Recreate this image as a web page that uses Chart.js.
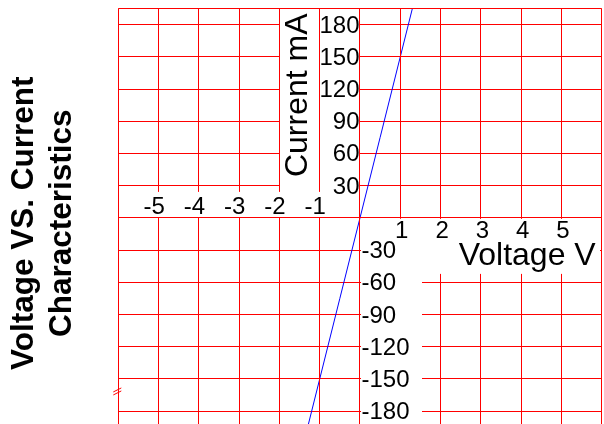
<!DOCTYPE html>
<html>
<head>
<meta charset="utf-8">
<title>Voltage VS. Current Characteristics</title>
<script src="https://cdn.jsdelivr.net/npm/chart.js@4/dist/chart.umd.min.js"></script>
<style>
  html, body { margin: 0; padding: 0; background: #ffffff; overflow: hidden; }
  #chart-wrap { width: 604px; height: 424px; overflow: hidden; }
</style>
</head>
<body>
<div id="chart-wrap"><canvas id="chart" width="604" height="438"></canvas></div>
<script>
// ─── Data ────────────────────────────────────────────────────────────────────
// Measured points of the straight V/I line (volts, milliamps).
const VOLTAGE = [-1.3, -1.0, -0.5, 0, 0.5, 1.0, 1.3];
const CURRENT = [-195, -150, -75, 0, 75, 150, 195];

// Axis ranges, grid positions and tick labels.
const VOLTAGE_RANGE = [-6, 6];
const CURRENT_RANGE = [-205, 195];
const VOLTAGE_GRID = [-6, -5, -4, -3, -2, -1, 0, 1, 2, 3, 4, 5, 6];
const CURRENT_GRID = [-180, -150, -120, -90, -60, -30, 0, 30, 60, 90, 120, 150, 180];
const VOLTAGE_LABELS = [-5, -4, -3, -2, -1, 1, 2, 3, 4, 5];
const CURRENT_LABELS = [-180, -150, -120, -90, -60, -30, 30, 60, 90, 120, 150, 180];

const TITLE_LINES = ['Voltage VS. Current', 'Characteristics'];
const X_TITLE = 'Voltage V';
const Y_TITLE = 'Current mA';

// ─── Styling ─────────────────────────────────────────────────────────────────
const GRID_RED = '#ff0000';
const LINE_BLUE = '#0000ff';
const FONT = '"Liberation Sans", Arial, sans-serif';

// Snap a pixel to the middle of a device pixel so 1px lines stay crisp.
function crisp(p) {
  return Math.floor(p) + 0.5;
}

function whiteBox(ctx, x1, y1, x2, y2) {
  ctx.fillStyle = '#ffffff';
  ctx.fillRect(x1, y1, x2 - x1, y2 - y1);
}

function hLine(ctx, y, x1, x2) {
  ctx.beginPath();
  ctx.moveTo(x1, crisp(y));
  ctx.lineTo(x2, crisp(y));
  ctx.stroke();
}

function vLine(ctx, x, y1, y2) {
  ctx.beginPath();
  ctx.moveTo(crisp(x), y1);
  ctx.lineTo(crisp(x), y2);
  ctx.stroke();
}

// ─── Axis overlay plugin ─────────────────────────────────────────────────────
// Old-spreadsheet look: the axes cross at (0, 0) and every label block sits
// on an opaque white patch that hides the grid behind it.
const axisOverlay = {
  id: 'axisOverlay',

  // The current labels block hides the horizontal grid only
  // (the vertical grid is drawn later, at z = 1).
  beforeDatasetsDraw(chart) {
    const { ctx, chartArea, scales: { x, y } } = chart;
    const x0 = x.getPixelForValue(0);
    const y0 = y.getPixelForValue(0);
    ctx.save();
    whiteBox(ctx, x.getPixelForValue(-2), chartArea.top + 1, x0, y0);
    ctx.restore();
  },

  afterDraw(chart) {
    const { ctx, chartArea, scales: { x, y } } = chart;
    const { left, right, top, bottom } = chartArea;
    const x0 = x.getPixelForValue(0);
    const y0 = y.getPixelForValue(0);

    ctx.save();

    // label patches hiding the vertical grid
    whiteBox(ctx, left + 1, y0 - 26, x0, y0);                      // -5 .. -1
    whiteBox(ctx, x0 + 1, y0 + 1, Math.floor(right) - 1, y0 + 56);  // 1..5 + "Voltage V"
    whiteBox(ctx, x0 + 1, y0 + 1, x0 + 62, bottom);                // -30 .. -180

    // frame top and the two zero axes
    ctx.strokeStyle = GRID_RED;
    ctx.lineWidth = 1;
    hLine(ctx, top, left, right);
    hLine(ctx, y0, left, right);
    vLine(ctx, x0, top, bottom);

    // scale break mark on the left edge
    const yb = y.getPixelForValue(-150) + 10;
    ctx.beginPath();
    ctx.moveTo(left - 5, yb + 3);
    ctx.lineTo(left + 3, yb - 1);
    ctx.moveTo(left - 5, yb + 6);
    ctx.lineTo(left + 3, yb + 2);
    ctx.stroke();

    // tick labels
    ctx.fillStyle = '#000000';
    ctx.font = '24px ' + FONT;
    ctx.textBaseline = 'alphabetic';
    ctx.textAlign = 'center';
    VOLTAGE_LABELS.forEach((v) => {
      const px = x.getPixelForValue(v);
      if (v < 0) {
        ctx.fillText(String(v), px - 4.5, y0 - 4);
      } else {
        ctx.fillText(String(v), px + 1.5, y0 + 20.5);
      }
    });
    CURRENT_LABELS.forEach((c) => {
      const py = y.getPixelForValue(c);
      if (c > 0) {
        ctx.textAlign = 'right';
        ctx.fillText(String(c), x0 - 0.5, py + 8);
      } else {
        ctx.textAlign = 'left';
        ctx.fillText(String(c), x0 + 1.5, py + 8);
      }
    });

    // axis titles
    ctx.font = '32px ' + FONT;
    ctx.textAlign = 'right';
    ctx.fillText(X_TITLE, right - 6, y0 + 47);

    ctx.translate(x0 - 53.3, y0 - 122.6);
    ctx.rotate(-Math.PI / 2);
    ctx.textAlign = 'center';
    ctx.fillText(Y_TITLE, 0, 0);

    ctx.restore();
  },
};

// ─── Chart ───────────────────────────────────────────────────────────────────
const points = VOLTAGE.map((v, i) => ({ x: v, y: CURRENT[i] }));

new Chart(document.getElementById('chart'), {
  type: 'scatter',
  data: {
    datasets: [
      {
        data: points,
        showLine: true,
        borderColor: LINE_BLUE,
        backgroundColor: LINE_BLUE,
        borderWidth: 1,
        pointRadius: 0,
        tension: 0,
      },
    ],
  },
  options: {
    responsive: false,
    animation: false,
    events: [],
    layout: {
      padding: { left: 0, right: 2.3, top: 8.5, bottom: 0 },
    },
    plugins: {
      legend: { display: false },
      tooltip: { enabled: false },
      title: {
        display: true,
        position: 'left',
        text: TITLE_LINES,
        color: '#000000',
        font: { family: FONT, size: 31.5, weight: 'bold', lineHeight: 1.2 },
        padding: { top: 5.2, bottom: 37.5 },
      },
    },
    scales: {
      x: {
        type: 'linear',
        min: VOLTAGE_RANGE[0],
        max: VOLTAGE_RANGE[1],
        afterBuildTicks: (scale) => {
          scale.ticks = VOLTAGE_GRID.map((v) => ({ value: v }));
        },
        ticks: { display: false },
        border: { display: false },
        grid: { color: GRID_RED, lineWidth: 1, drawTicks: false, z: 1 },
      },
      y: {
        type: 'linear',
        min: CURRENT_RANGE[0],
        max: CURRENT_RANGE[1],
        afterBuildTicks: (scale) => {
          scale.ticks = CURRENT_GRID.map((v) => ({ value: v }));
        },
        ticks: { display: false },
        border: { display: false },
        grid: { color: GRID_RED, lineWidth: 1, drawTicks: false },
      },
    },
  },
  plugins: [axisOverlay],
});
</script>
</body>
</html>
